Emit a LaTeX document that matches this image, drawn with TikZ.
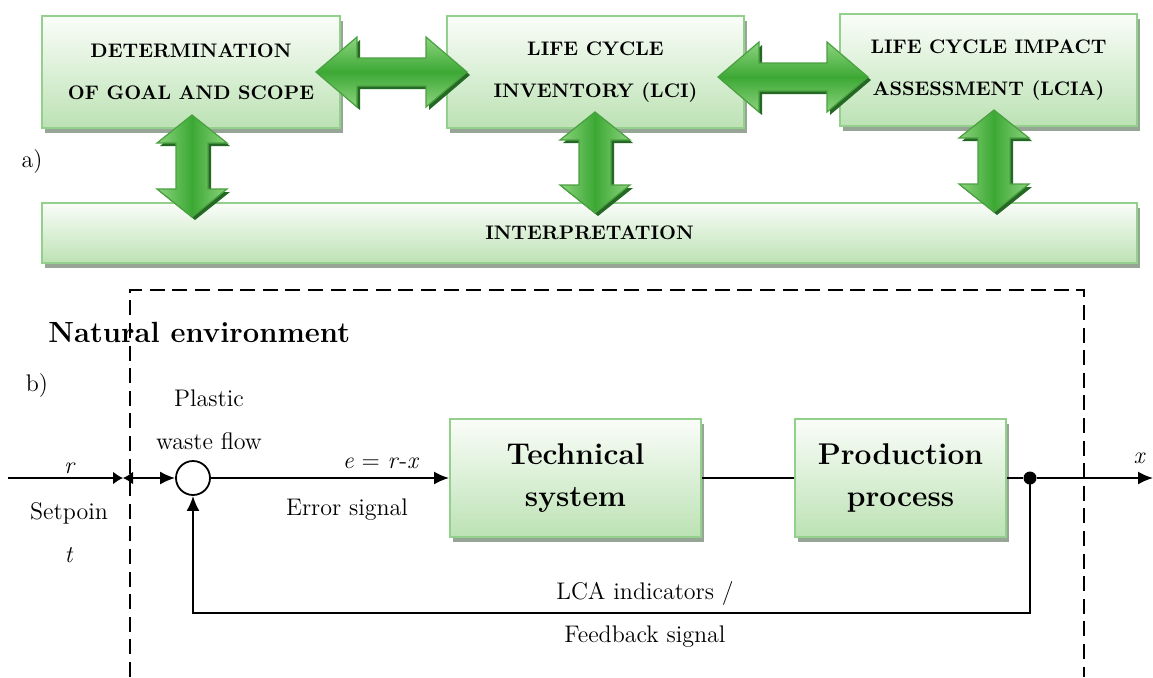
\documentclass[tikz,border=0pt]{standalone}
\usepackage{tikz}
\usetikzlibrary{arrows.meta,calc,positioning,shadows}
\definecolor{boxtop}{RGB}{250,253,249}
\definecolor{boxbot}{RGB}{188,226,180}
\definecolor{boxedge}{RGB}{146,208,140}
\definecolor{boxshade}{RGB}{150,165,150}
\definecolor{arrlight}{RGB}{140,212,126}
\definecolor{arrmid}{RGB}{60,168,52}
\definecolor{arredge}{RGB}{75,160,65}
\definecolor{arrshade}{RGB}{35,105,35}
% fat two-headed arrows, in pixel units: from x #1 to x #2 at height #3
\newcommand{\harrow}[3]{%
  \begin{scope}[shift={(#1,#3)}]
    \pgfmathsetmacro{\alen}{#2-#1}
    \def\apath{(0,0) -- (41,-35) -- (41,-14) -- (\alen-41,-14) -- (\alen-41,-35) -- (\alen,0) -- (\alen-41,35) -- (\alen-41,14) -- (41,14) -- (41,35) -- cycle}
    \fill[arrshade,xshift=1.5pt,yshift=-1.5pt] \apath;
    \path[harr] \apath;
  \end{scope}}
% same, upright: at x #1 from y #2 to y #3
\newcommand{\varrow}[3]{%
  \begin{scope}[shift={(#1,#2)}]
    \pgfmathsetmacro{\alen}{#3-#2}
    \def\apath{(0,0) -- (35,28) -- (16,28) -- (16,\alen-28) -- (35,\alen-28) -- (0,\alen) -- (-35,\alen-28) -- (-16,\alen-28) -- (-16,28) -- (-35,28) -- cycle}
    \fill[arrshade,xshift=1.5pt,yshift=-1.5pt] \apath;
    \path[varr] \apath;
  \end{scope}}

\begin{document}
\begin{tikzpicture}[x=0.5pt,y=-0.5pt,>={Latex[length=7.5pt,width=6.5pt]},
  stagebox/.style={draw=boxedge,line width=1pt,top color=boxtop,bottom color=boxbot,
    drop shadow={shadow xshift=1.5pt,shadow yshift=-2.5pt,fill=boxshade,opacity=1},
    inner sep=0pt,align=center},
  stagetxt/.style={font=\bfseries\fontsize{9.8}{21}\selectfont},
  blocktxt/.style={font=\bfseries\fontsize{15}{21}\selectfont},
  harr/.style={top color=arrlight,bottom color=arrlight,middle color=arrmid,draw=arredge,line width=0.6pt},
  varr/.style={left color=arrlight,right color=arrlight,middle color=arrmid,draw=arredge,line width=0.6pt},
  sig/.style={line width=0.9pt},
  lbl/.style={font=\fontsize{12}{21.5}\selectfont,align=center,inner sep=0pt},
  envline/.style={line width=1pt,dash pattern=on 7.5pt off 3.8pt}]
  \useasboundingbox (0,0) rectangle (1153,677);

  % a) LCA stages
  \node[stagebox,stagetxt,minimum width=149pt,minimum height=56pt] (goal) at (191,72) {DETERMINATION\\OF GOAL AND SCOPE};
  \node[stagebox,stagetxt,minimum width=148.5pt,minimum height=56pt] (lci) at (595.5,72) {LIFE CYCLE\\INVENTORY (LCI)};
  \node[stagebox,stagetxt,minimum width=148.5pt,minimum height=56pt] (lcia) at (988.5,70) {LIFE CYCLE IMPACT\\ASSESSMENT (LCIA)};
  \node[stagebox,stagetxt,minimum width=547.5pt,minimum height=30pt] (interp) at (589.5,233) {INTERPRETATION};
  \node[lbl] (tagA) at (32,162) {a)};
  \harrow{316}{467}{72}
  \harrow{718}{868}{77}
  \foreach \cx/\ya/\yb in {192/115/217,595/112/213,994/110/212}
    \varrow{\cx}{\ya}{\yb};

  % b) control loop
  \draw[envline] (130,677) -- (130,290) -- (1084,290) -- (1084,677);
  \node[font=\bfseries\fontsize{14.6}{18}\selectfont,anchor=west,inner sep=0pt] (env) at (48,332) {Natural environment};
  \node[lbl] (tagB) at (37,385) {b)};
  \node[stagebox,blocktxt,minimum width=125.5pt,minimum height=59pt] (tech) at (575.5,478) {Technical\\system};
  \node[stagebox,blocktxt,minimum width=105.5pt,minimum height=59pt] (prod) at (900.5,478) {Production\\process};
  \node[draw,circle,line width=0.9pt,minimum size=17pt,inner sep=0pt] (sum) at (193,478) {};
  \node[circle,fill,minimum size=6.5pt,inner sep=0pt] (split) at (1030,478) {};
  \coordinate (in) at (8,478);
  \coordinate (gate) at (123,478);
  \coordinate (out) at (1153,478);
  \coordinate (fb) at (193,613);

  \draw[sig,-{Latex[length=5pt,width=6.5pt]}] (in) -- (gate);
  \draw[sig,{Latex[length=5pt,width=6.5pt]}->] (gate) -- (sum);
  \draw[sig,->] (sum) -- (tech);
  \draw[sig] (tech) -- (prod);
  \draw[sig] (prod) -- (split);
  \draw[sig,->] (split) -- (out);
  \draw[sig,->] (split.center) |- (fb) -- (sum);

  \node[lbl,font=\itshape\fontsize{12}{21.5}\selectfont] (rlbl) at (69,468) {r};
  \node[lbl] (setp) at (69,533) {Setpoin\\\textit{t}};
  \node[lbl] (flow) at (209,420) {Plastic\\waste flow};
  \node[lbl] (elbl) at (381,463) {\textit{e} = \textit{r}-\textit{x}};
  \node[lbl] (err) at (347,510) {Error signal};
  \node[lbl,font=\itshape\fontsize{12}{21.5}\selectfont] (xlbl) at (1139,458) {x};
  \node[lbl] (fblbl) at (645,614) {LCA indicators /\\Feedback signal};
\end{tikzpicture}
\end{document}
